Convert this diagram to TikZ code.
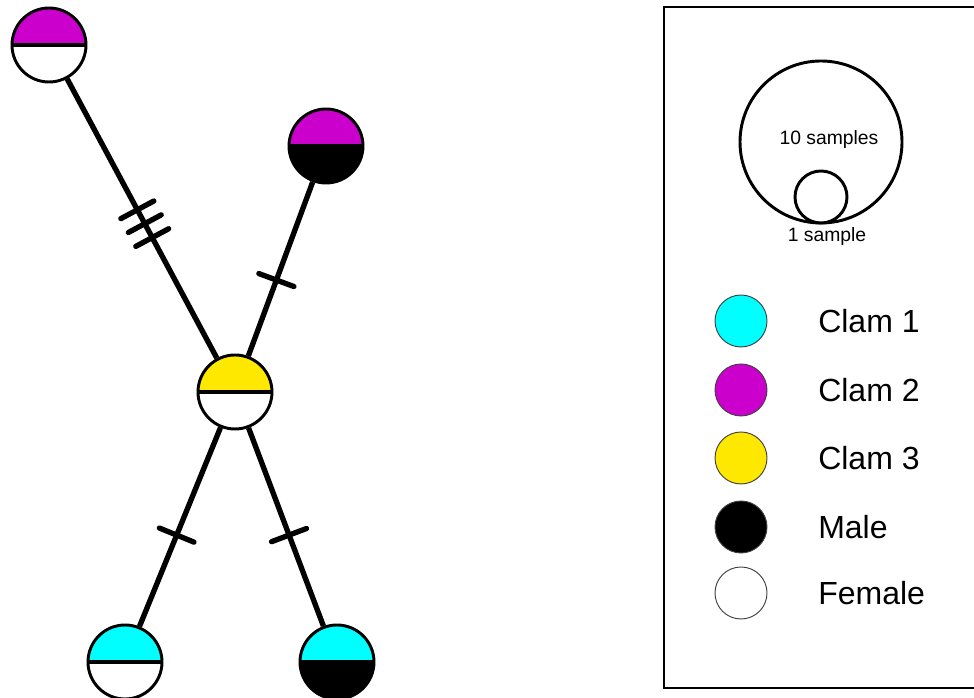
\documentclass[tikz,border=0pt]{standalone}
\usepackage{fontspec}
\setmainfont{Liberation Sans}
\usetikzlibrary{calc}
\definecolor{clamA}{RGB}{0,255,255}
\definecolor{clamB}{RGB}{204,0,204}
\definecolor{clamC}{RGB}{255,232,0}
\newcommand\hnode[4]{%
  \fill[#3] (#2) ++(37,0) arc (0:180:37) -- cycle;
  \fill[#4] (#2) ++(-37,0) arc (180:360:37) -- cycle;
  \node[hn] (#1) at (#2) {};
  \draw[line width=2.4pt] (#1.west) -- (#1.east);
}
\begin{document}
\begin{tikzpicture}[x=0.75pt,y=0.75pt,
  hn/.style={circle,draw,line width=2.2pt,inner sep=0pt,minimum size=55.5pt},
  edge/.style={line width=4pt},
  tick/.style={line width=4pt,line cap=round},
  legc/.style={circle,draw=black!75,line width=0.7pt,inner sep=0pt,minimum size=39pt},
  legt/.style={anchor=west,font=\fontsize{24pt}{28pt}\selectfont,inner sep=0pt},
  smallt/.style={font=\fontsize{14.5pt}{17pt}\selectfont,inner sep=0pt}]
\useasboundingbox (0,0) rectangle (974,698);
% haplotype nodes
\hnode{nA}{49,653}{clamB}{white}
\hnode{nB}{326,552}{clamB}{black}
\hnode{nC}{235,306}{clamC}{white}
\hnode{nD}{125,36}{clamA}{white}
\hnode{nE}{337,36}{clamA}{black}
% edges
\draw[edge] (nA) -- (nC);
\draw[edge] (nB) -- (nC);
\draw[edge] (nC) -- (nD);
\draw[edge] (nC) -- (nE);
% mutation ticks
\foreach \f in {0.475,0.515,0.555}{
  \coordinate (t) at ($(nA.center)!\f!(nC.center)$);
  \draw[tick] ($(t)!14pt!90:(nC.center)$) -- ($(t)!14pt!-90:(nC.center)$);
}
\coordinate (t2) at ($(nB.center)!0.545!(nC.center)$);
\draw[tick] ($(t2)!14pt!90:(nC.center)$) -- ($(t2)!14pt!-90:(nC.center)$);
\coordinate (t3) at ($(nC.center)!0.53!(nD.center)$);
\draw[tick] ($(t3)!14pt!90:(nD.center)$) -- ($(t3)!14pt!-90:(nD.center)$);
\coordinate (t4) at ($(nC.center)!0.53!(nE.center)$);
\draw[tick] ($(t4)!14pt!90:(nE.center)$) -- ($(t4)!14pt!-90:(nE.center)$);
% legend box
\begin{scope}
\clip (0,0) rectangle (974,698);
\draw[line width=2.2pt] (664,691) rectangle (1000,10);
\end{scope}
\node[circle,draw,line width=2.2pt,inner sep=0pt,minimum size=121.5pt] (big) at (821,556) {};
\node[circle,draw,line width=2.2pt,inner sep=0pt,minimum size=39pt,fill=white] (small) at (821,501) {};
\node[smallt] (t10) at (829,558) {10 samples};
\node[smallt] (t1) at (827,461) {1 sample};
% legend entries
\node[legc,fill=clamA] (l1) at (741,377) {};
\node[legc,fill=clamB] (l2) at (741,308) {};
\node[legc,fill=clamC] (l3) at (741,240) {};
\node[legc,fill=black] (l4) at (741,171) {};
\node[legc,fill=white] (l5) at (741,105) {};
\node[legt] (c1) at (818,377) {Clam 1};
\node[legt] (c2) at (818,308) {Clam 2};
\node[legt] (c3) at (818,240) {Clam 3};
\node[legt] (c4) at (818,171) {Male};
\node[legt] (c5) at (818,105) {Female};
\end{tikzpicture}
\end{document}
